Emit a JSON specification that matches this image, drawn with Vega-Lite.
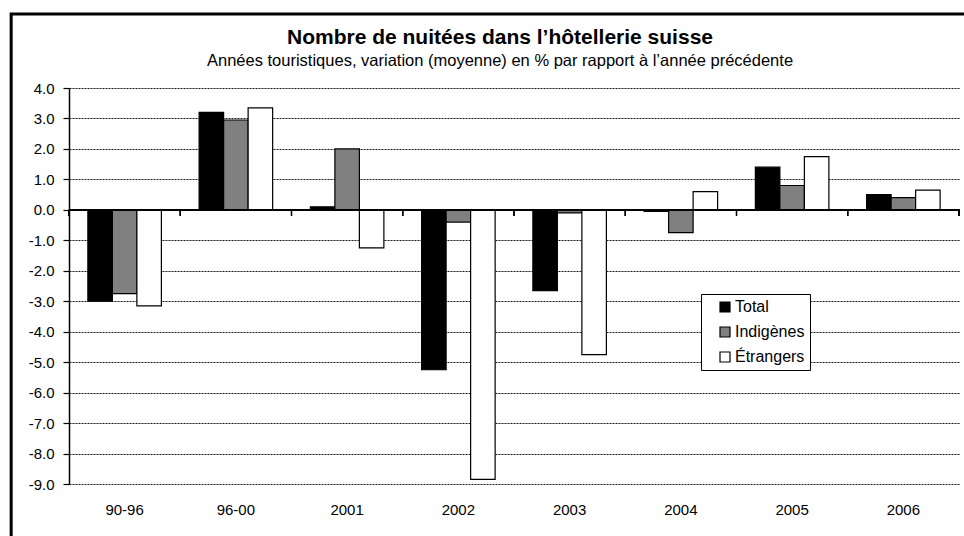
{
  "$schema": "https://vega.github.io/schema/vega-lite/v6.json",
  "width": 890,
  "height": 396,
  "autosize": {"type": "none"},
  "padding": {"left": 69, "top": 88, "right": 5, "bottom": 52},
  "background": "white",
  "title": {
    "text": "Nombre de nuitées dans l’hôtellerie suisse",
    "subtitle": "Années touristiques, variation (moyenne) en % par rapport à l’année précédente",
    "font": "Liberation Sans",
    "fontSize": 21,
    "fontWeight": "bold",
    "color": "#000000",
    "subtitleFont": "Liberation Sans",
    "subtitleFontSize": 16.5,
    "subtitleColor": "#000000",
    "subtitlePadding": 5,
    "anchor": "middle",
    "dx": -14,
    "offset": -57
  },
  "config": {
    "view": {"stroke": null},
    "font": "Liberation Sans"
  },
  "data": {
    "values": [
      {"cat": "90-96", "serie": "Total", "v": -3.0},
      {"cat": "90-96", "serie": "Indigènes", "v": -2.75},
      {"cat": "90-96", "serie": "Étrangers", "v": -3.15},
      {"cat": "96-00", "serie": "Total", "v": 3.2},
      {"cat": "96-00", "serie": "Indigènes", "v": 2.95},
      {"cat": "96-00", "serie": "Étrangers", "v": 3.35},
      {"cat": "2001", "serie": "Total", "v": 0.1},
      {"cat": "2001", "serie": "Indigènes", "v": 2.0},
      {"cat": "2001", "serie": "Étrangers", "v": -1.25},
      {"cat": "2002", "serie": "Total", "v": -5.25},
      {"cat": "2002", "serie": "Indigènes", "v": -0.4},
      {"cat": "2002", "serie": "Étrangers", "v": -8.85},
      {"cat": "2003", "serie": "Total", "v": -2.65},
      {"cat": "2003", "serie": "Indigènes", "v": -0.1},
      {"cat": "2003", "serie": "Étrangers", "v": -4.75},
      {"cat": "2004", "serie": "Total", "v": -0.05},
      {"cat": "2004", "serie": "Indigènes", "v": -0.75},
      {"cat": "2004", "serie": "Étrangers", "v": 0.6},
      {"cat": "2005", "serie": "Total", "v": 1.4},
      {"cat": "2005", "serie": "Indigènes", "v": 0.8},
      {"cat": "2005", "serie": "Étrangers", "v": 1.75},
      {"cat": "2006", "serie": "Total", "v": 0.5},
      {"cat": "2006", "serie": "Indigènes", "v": 0.4},
      {"cat": "2006", "serie": "Étrangers", "v": 0.65}
    ]
  },
  "layer": [
    {
      "mark": {"type": "bar", "stroke": "#000000", "strokeWidth": 1.2},
      "encoding": {
        "x": {
          "field": "cat",
          "type": "nominal",
          "sort": null,
          "scale": {"paddingInner": 0, "paddingOuter": 0},
          "axis": {
            "title": null,
            "labelAngle": 0,
            "domain": false,
            "ticks": false,
            "grid": false,
            "labelPadding": 18,
            "labelFontSize": 15,
            "labelColor": "#000000",
            "labelFont": "Liberation Sans"
          }
        },
        "xOffset": {
          "field": "serie",
          "type": "nominal",
          "sort": ["Total", "Indigènes", "Étrangers"],
          "scale": {"paddingInner": 0, "paddingOuter": 0.77}
        },
        "y": {
          "field": "v",
          "type": "quantitative",
          "scale": {"domain": [-9, 4], "nice": false, "zero": false},
          "axis": {
            "title": null,
            "values": [-9, -8, -7, -6, -5, -4, -3, -2, -1, 0, 1, 2, 3, 4],
            "tickCount": 14,
            "labelExpr": "(datum.value < 0 ? '-' : '') + format(abs(datum.value), '.1f')",
            "labelOverlap": false,
            "grid": true,
            "gridColor": "#000000",
            "gridDash": [2, 1],
            "gridWidth": 1,
            "gridOpacity": 0.9,
            "domain": true,
            "domainColor": "#000000",
            "domainWidth": 1.5,
            "ticks": true,
            "tickColor": "#000000",
            "tickSize": 6,
            "tickWidth": 1.2,
            "labelFontSize": 15,
            "labelColor": "#000000",
            "labelPadding": 9,
            "labelFont": "Liberation Sans"
          }
        },
        "fill": {
          "field": "serie",
          "type": "nominal",
          "scale": {
            "domain": ["Total", "Indigènes", "Étrangers"],
            "range": ["#000000", "#808080", "#ffffff"]
          },
          "legend": {
            "title": null,
            "orient": "none",
            "legendX": 632,
            "legendY": 206,
            "strokeColor": "#000000",
            "fillColor": "#ffffff",
            "padding": 5,
            "symbolType": "square",
            "symbolSize": 100,
            "symbolStrokeColor": "#000000",
            "symbolStrokeWidth": 1.2,
            "symbolOffset": 11,
            "labelFontSize": 16,
            "labelColor": "#000000",
            "labelFont": "Liberation Sans",
            "labelOffset": 2,
            "rowPadding": 9
          }
        }
      }
    },
    {
      "mark": {"type": "rule", "color": "#000000", "strokeWidth": 1.5},
      "encoding": {"y": {"datum": 0}}
    },
    {
      "mark": {"type": "rule", "color": "#000000", "strokeWidth": 1.2},
      "encoding": {
        "x": {"field": "cat", "type": "nominal", "sort": null, "bandPosition": 0},
        "y": {"datum": 0},
        "y2": {"datum": -0.2}
      }
    },
    {
      "mark": {"type": "rule", "color": "#000000", "strokeWidth": 1.2},
      "encoding": {
        "x": {"datum": "2006", "bandPosition": 1},
        "y": {"datum": 0},
        "y2": {"datum": -0.2}
      }
    },
    {
      "data": {"values": [{"frame": 1}]},
      "mark": {"type": "rect", "fill": null, "fillOpacity": 0, "stroke": "#000000", "strokeWidth": 3},
      "encoding": {
        "x": {"datum": "90-96", "bandPosition": -0.52},
        "x2": {"datum": "2006", "bandPosition": 1.3},
        "y": {"datum": 6.43},
        "y2": {"datum": -12}
      }
    }
  ]
}
